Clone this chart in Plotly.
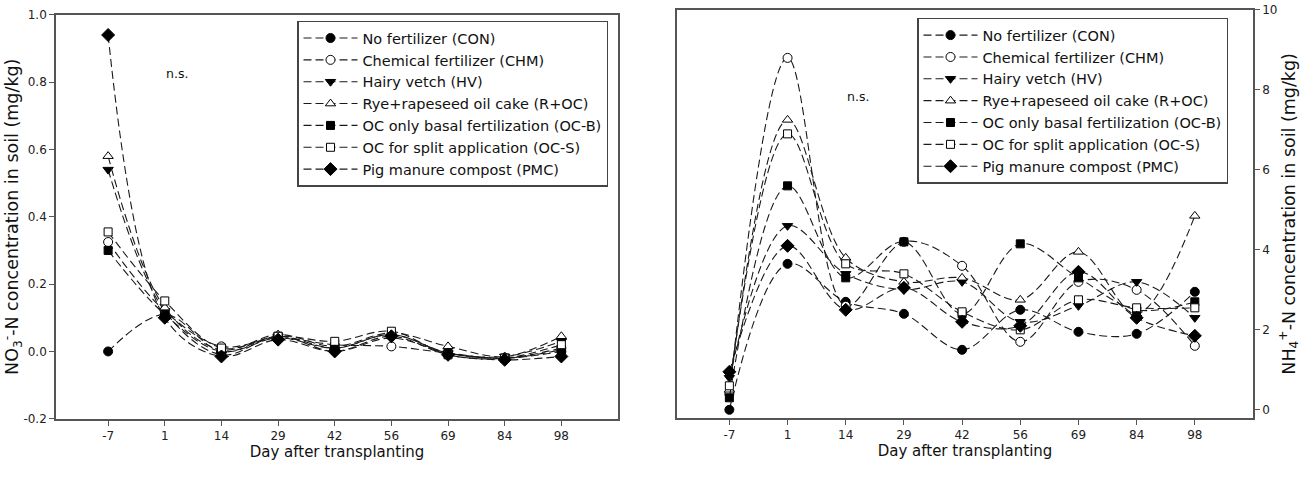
import plotly.graph_objects as go

days = ["-7", "1", "14", "29", "42", "56", "69", "84", "98"]
names = ["No fertilizer (CON)", "Chemical fertilizer (CHM)", "Hairy vetch (HV)",
         "Rye+rapeseed oil cake (R+OC)", "OC only basal fertilization (OC-B)",
         "OC for split application (OC-S)", "Pig manure compost (PMC)"]

# NO3-N (mg/kg)
no3_con = [0.00, 0.11, 0.000, 0.040, 0.010, 0.050, -0.005, -0.020, 0.000]
no3_chm = [0.325, 0.12, 0.015, 0.040, 0.020, 0.015, -0.005, -0.020, 0.010]
no3_hv = [0.54, 0.12, -0.010, 0.045, 0.000, 0.040, -0.005, -0.015, 0.030]
no3_roc = [0.58, 0.13, 0.005, 0.050, 0.015, 0.055, 0.015, -0.015, 0.045]
no3_ocb = [0.30, 0.11, 0.000, 0.045, 0.010, 0.050, -0.005, -0.020, 0.005]
no3_ocs = [0.355, 0.15, 0.010, 0.045, 0.030, 0.060, -0.010, -0.020, 0.020]
no3_pmc = [0.94, 0.10, -0.015, 0.035, 0.000, 0.045, -0.010, -0.025, -0.015]

# NH4-N (mg/kg)
nh4_con = [0.0, 3.65, 2.7, 2.4, 1.5, 2.5, 1.95, 1.9, 2.95]
nh4_chm = [0.4, 8.8, 2.6, 4.2, 3.6, 1.7, 3.2, 3.0, 1.6]
nh4_hv = [0.8, 4.6, 3.4, 3.0, 3.2, 2.2, 2.6, 3.2, 2.3]
nh4_roc = [0.5, 7.25, 3.8, 3.2, 3.3, 2.75, 3.95, 2.4, 4.85]
nh4_ocb = [0.3, 5.6, 3.3, 4.2, 2.4, 4.15, 3.3, 2.5, 2.7]
nh4_ocs = [0.6, 6.9, 3.65, 3.4, 2.45, 2.0, 2.75, 2.55, 2.55]
nh4_pmc = [0.95, 4.1, 2.5, 3.05, 2.2, 2.1, 3.45, 2.3, 1.85]

no3 = [no3_con, no3_chm, no3_hv, no3_roc, no3_ocb, no3_ocs, no3_pmc]
nh4 = [nh4_con, nh4_chm, nh4_hv, nh4_roc, nh4_ocb, nh4_ocs, nh4_pmc]

symbols = ["circle", "circle", "triangle-down", "triangle-up", "square", "square", "diamond"]
fills = ["black", "white", "black", "white", "black", "white", "black"]
sizes = [9, 9, 9, 9, 8, 8, 10]

FONT = "DejaVu Sans, Liberation Sans, Arial, sans-serif"
LINE = "#1a1a1a"
FRAME = "#555555"
xi = list(range(len(days)))

fig = go.Figure()
for k in range(7):
    for data, xa, ya, lg in [(no3[k], "x", "y", "legend"), (nh4[k], "x2", "y2", "legend2")]:
        fig.add_trace(go.Scatter(
            x=xi, y=data, xaxis=xa, yaxis=ya, name=names[k], legend=lg,
            mode="lines+markers",
            line=dict(color=LINE, width=1.1, dash="8px,4px", shape="spline", smoothing=1.0),
            marker=dict(symbol=symbols[k], size=sizes[k], color=fills[k],
                        line=dict(color="black", width=1)),
        ))

W, H = 1302, 485
def px(v): return v / W
def py(v): return (H - v) / H

tickfont = dict(family=FONT, size=12, color="#222")
axis_common = dict(
    tickmode="array", tickvals=xi, ticktext=days, ticks="outside", ticklen=5,
    tickcolor=FRAME, showline=True, linecolor=FRAME, linewidth=1.6, mirror=True,
    showgrid=False, zeroline=False, tickfont=tickfont,
    title=dict(text="Day after transplanting", font=dict(family=FONT, size=15, color="#111"), standoff=5),
)
legend_common = dict(xanchor="left", yanchor="top", bgcolor="white", bordercolor="#444",
                     borderwidth=1.5, font=dict(family=FONT, size=14.5, color="#111"),
                     tracegroupgap=0, itemwidth=54)
fig.update_layout(
    width=W, height=H, margin=dict(l=0, r=0, t=0, b=0),
    paper_bgcolor="white", plot_bgcolor="white",
    font=dict(family=FONT, color="#111"),
    xaxis=dict(domain=[px(56), px(618)], range=[-0.92, 9.0], anchor="y", **axis_common),
    xaxis2=dict(domain=[px(677), px(1253)], range=[-0.9, 9.0], anchor="y2", **axis_common),
    yaxis=dict(domain=[py(424), py(8)], range=[-0.2, 1.0], tickvals=[-0.2, 0, 0.2, 0.4, 0.6, 0.8, 1.0],
               ticktext=["-0.2", "0.0", "0.2", "0.4", "0.6", "0.8", "1.0"],
               ticks="outside", ticklen=5, tickcolor=FRAME, showline=True, linecolor=FRAME,
               linewidth=1.6, mirror=True, showgrid=False, zeroline=False, anchor="x",
               tickfont=tickfont,
               title=dict(text="NO<sub>3</sub><sup>-</sup>-N concentration in soil (mg/kg)",
                          font=dict(family=FONT, size=17.5, color="#111"), standoff=4)),
    yaxis2=dict(domain=[py(423), py(3)], range=[-0.2, 10.0], tickvals=[0, 2, 4, 6, 8, 10],
                side="right", ticks="outside", ticklen=5, tickcolor=FRAME, showline=True,
                linecolor=FRAME, linewidth=1.6, mirror=True, showgrid=False, zeroline=False,
                anchor="x2", tickfont=tickfont,
                title=dict(text="NH<sub>4</sub><sup>+</sup>-N concentration in soil (mg/kg)",
                           font=dict(family=FONT, size=17.5, color="#111"), standoff=6)),
    legend=dict(x=px(297), y=py(14), **legend_common),
    legend2=dict(x=px(917), y=py(11), **legend_common),
    annotations=[
        dict(text="n.s.", x=px(177), y=py(68), xref="paper", yref="paper", showarrow=False,
             xanchor="center", yanchor="middle", font=dict(family=FONT, size=12.5, color="#111")),
        dict(text="n.s.", x=px(858), y=py(92), xref="paper", yref="paper", showarrow=False,
             xanchor="center", yanchor="middle", font=dict(family=FONT, size=12.5, color="#111")),
    ],
)

fig.write_html("out.html")
